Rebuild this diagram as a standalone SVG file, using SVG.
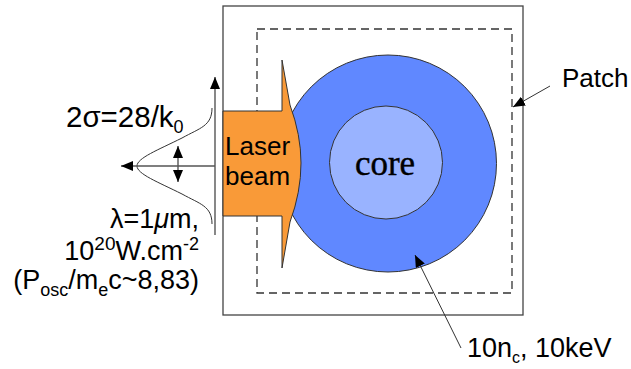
<svg xmlns="http://www.w3.org/2000/svg" width="631" height="369" viewBox="0 0 631 369">
<style>
.t{font-family:"Liberation Sans",Arial,sans-serif;font-size:26px;fill:#000}
.ln{fill:none;stroke:#555;stroke-width:1.4}
.thin{fill:none;stroke:#333;stroke-width:1}
</style>
<defs>
<marker id="ah" viewBox="0 0 12 10" refX="12" refY="5" markerWidth="12" markerHeight="10" markerUnits="userSpaceOnUse" orient="auto-start-reverse">
<path d="M0,0 L12,5 L0,10 Z" fill="#000"/>
</marker>
</defs>
<rect width="631" height="369" fill="#fff"/>
<g id="patch-box">
<rect x="223" y="6" width="300" height="309" fill="#fff" stroke="#444" stroke-width="1.3"/>
<rect x="257" y="29" width="255" height="264" fill="none" stroke="#333" stroke-width="1.3" stroke-dasharray="8,5"/>
</g>
<g id="plasma">
<circle cx="388" cy="163.5" r="108.5" fill="#6088FF" stroke="#333" stroke-width="1"/>
</g>
<g id="core">
<circle cx="386" cy="162.5" r="56.5" fill="#99B3FF" stroke="#333" stroke-width="1"/>
<text x="385" y="175" text-anchor="middle" style="font-family:'Liberation Serif','Times New Roman',serif;font-size:35px;stroke:#000;stroke-width:0.4">core</text>
</g>
<g id="laser">
<path d="M223,111 L282,111 L282,60 L290,105 Q301,135 301,163 Q301,192 290,222 L282,268 L282,216 L223,216 Z" fill="#F99A38" stroke="#333" stroke-width="1"/>
<text class="t" x="225" y="155">Laser</text>
<text class="t" x="225" y="185">beam</text>
</g>
<g id="profile">
<path d="M212,108 C212,126 200,128 182,138 C158,150 137,158 137,166 C137,174 158,182 182,194 C200,204 212,206 212,224" class="thin"/>
<text class="t" x="66" y="127" style="font-size:29.5px">2σ=28/k<tspan dy="6" style="font-size:18px">0</tspan></text>
</g>
<g id="laser-params">
<text class="t" x="199" y="228" text-anchor="end" style="font-size:27px">λ=1<tspan font-style="italic">μ</tspan>m,</text>
<text class="t" x="199" y="260" text-anchor="end" style="font-size:27px">10<tspan dy="-10" style="font-size:19px">20</tspan><tspan dy="10">W.cm</tspan><tspan dy="-10" style="font-size:18px">-2</tspan></text>
<text class="t" x="199" y="289" text-anchor="end" style="font-size:27px">(P<tspan dy="7" style="font-size:18px">osc</tspan><tspan dy="-7">/m</tspan><tspan dy="7" style="font-size:18px">e</tspan><tspan dy="-7">c~8,83)</tspan></text>
</g>
<g id="patch-label">
<text class="t" x="562" y="87">Patch</text>
</g>
<g id="plasma-label">
<text class="t" x="467" y="357" style="font-size:27px">10n<tspan dy="6" style="font-size:16px">c</tspan><tspan dy="-6">, 10keV</tspan></text>
</g>
<g id="connectors">
<line x1="215" y1="235" x2="215" y2="77" class="ln" marker-end="url(#ah)"/>
<line x1="215" y1="166" x2="121" y2="166" class="ln" marker-end="url(#ah)"/>
<line x1="178" y1="146" x2="178" y2="182" class="ln" marker-start="url(#ah)" marker-end="url(#ah)"/>
<line x1="550" y1="86" x2="513" y2="107" class="thin" marker-end="url(#ah)"/>
<line x1="461" y1="348" x2="415" y2="255" class="thin" marker-end="url(#ah)"/>
</g>
</svg>
